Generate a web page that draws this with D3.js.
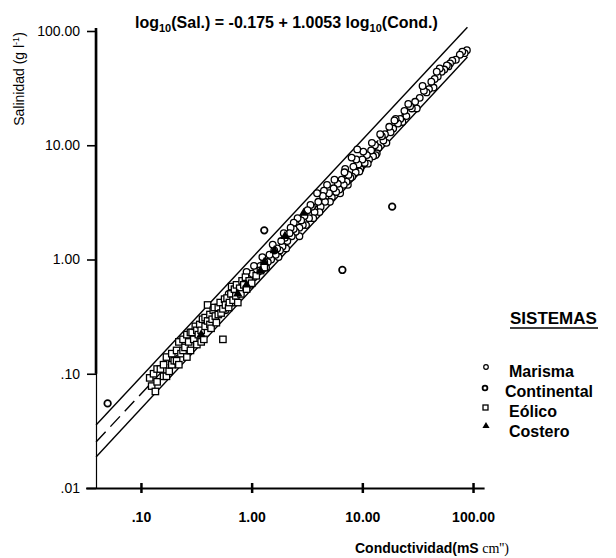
<!DOCTYPE html>
<html>
<head>
<meta charset="utf-8">
<script src="https://cdn.jsdelivr.net/npm/d3@7"></script>
<style>
body { margin: 0; background: #fff; }
text { font-family: "Liberation Sans", Arial, sans-serif; fill: #000; }
</style>
</head>
<body>
<script>
// conductividad (mS/cm) y salinidad (g/l) por sistema
var marismaC = [88, 84, 80, 76, 70, 65, 62, 60, 58, 55, 52, 50, 48, 47, 45, 44, 42, 40, 38, 36, 35, 33, 31, 30, 28, 27, 26, 25, 24, 23, 22, 21, 20, 19.5, 19, 18, 17.5, 16.5, 16, 15.5, 15, 14.5, 14, 13.5, 13.2, 13, 12.5, 12.2, 12, 11.5, 11.2, 11, 10.5, 10.2, 10, 9.6, 9.4, 9.2, 9, 8.8, 8.7, 8.3, 8.1, 8, 7.8, 7.5, 7.4, 7.2, 7, 6.9, 6.8, 6.5, 6.3, 6.2, 6, 5.8, 5.6, 5.5, 5.3, 5.1, 5, 4.8, 4.6, 4.5, 4.4, 4.2, 4.1, 4, 3.9, 3.7, 3.6, 3.5, 3.4, 3.3, 3.2, 3.1, 3, 2.9, 2.8, 2.7, 2.7, 2.6, 2.5, 2.4, 2.4, 2.3, 2.25, 2.2, 2.1, 2.05, 2.0, 1.95, 1.9, 1.85, 1.8, 1.75, 1.7, 1.65, 1.6, 1.55, 1.5, 1.45, 1.4, 1.35, 1.3, 1.25, 1.25, 1.2, 1.15, 1.1, 1.05, 1.05, 1.0, 0.98, 0.95, 0.92, 0.9, 0.88, 0.85, 0.8, 0.75, 0.72, 0.7, 0.68, 0.65, 0.62, 0.6, 0.58, 0.55];
var marismaS = [68, 64, 66, 62, 56, 55, 52, 49, 50, 46, 44, 47, 40, 44, 38, 32, 36, 31, 29, 30, 33, 26, 21, 24, 21, 22, 23, 18, 20, 16, 17, 15.5, 17, 16.5, 14, 13, 14.5, 10.5, 12.5, 11, 12, 12.5, 9.5, 8.5, 8.2, 10, 8, 10.5, 9, 7.5, 6.9, 8.2, 7, 8.8, 7.5, 6.2, 5.9, 6.8, 9.2, 7.5, 5.8, 6.5, 5.3, 7.8, 5.2, 5.5, 4.5, 4.8, 6.2, 5.8, 4.5, 5.0, 3.8, 4.1, 4.6, 3.9, 5.0, 4.2, 3.5, 3.2, 3.8, 4.5, 3.2, 4.0, 3.6, 2.9, 2.6, 3.2, 3.8, 2.6, 2.3, 2.9, 3.0, 2.3, 2.7, 2.0, 2.4, 2.0, 2.2, 1.9, 1.6, 2.3, 1.75, 1.85, 2.1, 1.6, 1.9, 1.7, 1.45, 1.25, 1.55, 1.7, 1.3, 1.45, 1.2, 1.05, 1.25, 1.1, 1.2, 1.35, 1.0, 1.1, 0.95, 0.85, 0.95, 0.82, 1.05, 0.88, 0.78, 0.8, 0.7, 0.88, 0.75, 0.6, 0.62, 0.68, 0.78, 0.6, 0.55, 0.58, 0.5, 0.55, 0.48, 0.42, 0.45, 0.5, 0.42, 0.36, 0.38];

var continentalC = [0.05, 1.3, 6.6, 18.6];
var continentalS = [0.055, 1.8, 0.81, 2.9];

var eolicoC = [0.12, 0.125, 0.13, 0.135, 0.14, 0.14, 0.15, 0.16, 0.16, 0.17, 0.17, 0.18, 0.19, 0.19, 0.2, 0.21, 0.21, 0.22, 0.22, 0.23, 0.24, 0.24, 0.25, 0.26, 0.26, 0.27, 0.28, 0.28, 0.29, 0.3, 0.31, 0.32, 0.32, 0.33, 0.34, 0.35, 0.35, 0.36, 0.37, 0.38, 0.38, 0.4, 0.4, 0.42, 0.42, 0.43, 0.44, 0.45, 0.46, 0.47, 0.48, 0.5, 0.5, 0.52, 0.53, 0.55, 0.55, 0.57, 0.58, 0.6, 0.62, 0.63, 0.65, 0.66, 0.68, 0.7, 0.72, 0.73, 0.75, 0.78, 0.8, 0.82, 0.85, 0.88, 0.9, 0.95, 1.0, 1.1, 1.2, 1.3];
var eolicoS = [0.092, 0.078, 0.10, 0.07, 0.085, 0.11, 0.11, 0.12, 0.095, 0.095, 0.14, 0.105, 0.15, 0.12, 0.13, 0.16, 0.13, 0.12, 0.19, 0.15, 0.2, 0.16, 0.17, 0.14, 0.22, 0.19, 0.16, 0.23, 0.23, 0.2, 0.26, 0.18, 0.24, 0.22, 0.27, 0.24, 0.19, 0.3, 0.2, 0.26, 0.31, 0.29, 0.4, 0.33, 0.27, 0.25, 0.3, 0.36, 0.38, 0.32, 0.28, 0.38, 0.33, 0.42, 0.34, 0.37, 0.2, 0.45, 0.4, 0.46, 0.38, 0.42, 0.5, 0.58, 0.44, 0.55, 0.48, 0.6, 0.42, 0.56, 0.5, 0.65, 0.6, 0.7, 0.55, 0.65, 0.62, 0.72, 0.8, 0.85];

var costeroC = [2.95, 2.0, 1.6, 1.3, 1.2, 0.9, 0.75, 0.35];
var costeroS = [2.55, 1.6, 1.2, 0.95, 0.8, 0.6, 0.5, 0.22];

// rectas: ajuste (discontinua) y limites (continuas)
var lineC = [0.0393, 89];
var upperS = [0.0356, 108];
var centerS = [0.0253, 75.4];
var lowerS = [0.0187, 59.2];

var xTicks = [0.1, 1, 10, 100];
var xTickLabels = [".10", "1.00", "10.00", "100.00"];
var yTicks = [0.01, 0.1, 1, 10, 100];
var yTickLabels = [".01", ".10", "1.00", "10.00", "100.00"];

var legendLabels = ["Marisma", "Continental", "Eólico", "Costero"];

var width = 616, height = 558;

var svg = d3.select("body").append("svg").attr("width", width).attr("height", height);

var x = d3.scaleLog()
          .domain([Math.pow(10, -1.5), Math.pow(10, 2.1)])
          .range([85.6, 484.1]);

var y = d3.scaleLog()
          .domain([0.01, 100])
          .range([488, 31]);

var yAxisX = 96;

// ejes
var xAxis = d3.axisBottom(x).tickValues(xTicks)
    .tickFormat(function(d, i) { return xTickLabels[i]; })
    .tickSize(0).tickSizeOuter(0).tickPadding(24);

var gx = svg.append("g").attr("transform", "translate(0,488)").call(xAxis);
gx.select(".domain").attr("stroke-width", 2.2);
gx.selectAll(".tick line").attr("y1", -5).attr("y2", 5).attr("stroke-width", 2.5);
gx.selectAll(".tick text").attr("font-size", 14).attr("font-weight", "bold")
    .style("font-family", "'Liberation Sans', Arial, sans-serif");

var yAxis = d3.axisLeft(y).tickValues(yTicks)
    .tickFormat(function(d, i) { return yTickLabels[i]; })
    .tickSize(9).tickSizeOuter(0).tickPadding(7);

var gy = svg.append("g").attr("transform", "translate(" + yAxisX + ",0)").call(yAxis);
gy.select(".domain").attr("stroke-width", 1.2);
gy.selectAll(".tick line").attr("stroke-width", 1.6);
gy.selectAll(".tick text").attr("font-size", 14)
    .style("font-family", "'Liberation Sans', Arial, sans-serif");

// tramo grueso del eje y
svg.append("line")
    .attr("x1", yAxisX).attr("x2", yAxisX)
    .attr("y1", y(100) - 3).attr("y2", y(0.1))
    .attr("stroke", "#000").attr("stroke-width", 2.6);

// rectas
var line = d3.line()
    .x(function(d) { return x(d[0]); })
    .y(function(d) { return y(d[1]); });

function pairs(cs, ss) { return cs.map(function(c, i) { return [c, ss[i]]; }); }

svg.append("path").attr("d", line(pairs(lineC, upperS)))
    .attr("fill", "none").attr("stroke", "#000").attr("stroke-width", 1.4);
svg.append("path").attr("d", line(pairs(lineC, lowerS)))
    .attr("fill", "none").attr("stroke", "#000").attr("stroke-width", 1.4);
svg.append("path").attr("d", line(pairs(lineC, centerS)))
    .attr("fill", "none").attr("stroke", "#000").attr("stroke-width", 1.4)
    .attr("stroke-dasharray", "14,7");

// puntos
var pts = svg.append("g");

pts.selectAll(".marisma").data(pairs(marismaC, marismaS)).enter()
    .append("circle")
    .attr("cx", function(d) { return x(d[0]); })
    .attr("cy", function(d) { return y(d[1]); })
    .attr("r", 3.3)
    .attr("fill", "#fff").attr("stroke", "#000").attr("stroke-width", 1.3);

pts.selectAll(".continental").data(pairs(continentalC, continentalS)).enter()
    .append("circle")
    .attr("cx", function(d) { return x(d[0]); })
    .attr("cy", function(d) { return y(d[1]); })
    .attr("r", 3.3)
    .attr("fill", "#fff").attr("stroke", "#000").attr("stroke-width", 1.7);

pts.selectAll(".eolico").data(pairs(eolicoC, eolicoS)).enter()
    .append("rect")
    .attr("x", function(d) { return x(d[0]) - 3.2; })
    .attr("y", function(d) { return y(d[1]) - 3.2; })
    .attr("width", 6.4).attr("height", 6.4)
    .attr("fill", "#fff").attr("stroke", "#000").attr("stroke-width", 1.3);

var tri = d3.symbol().type(d3.symbolTriangle).size(38);
pts.selectAll(".costero").data(pairs(costeroC, costeroS)).enter()
    .append("path")
    .attr("d", tri)
    .attr("transform", function(d) { return "translate(" + x(d[0]) + "," + y(d[1]) + ")"; })
    .attr("fill", "#000");

// titulo
var title = svg.append("text").attr("x", 135).attr("y", 28)
    .attr("font-size", 16).attr("font-weight", "bold");
title.append("tspan").text("log");
title.append("tspan").attr("font-size", 11).attr("dy", 4).text("10");
title.append("tspan").attr("dy", -4).text("(Sal.) = -0.175 + 1.0053 log");
title.append("tspan").attr("font-size", 11).attr("dy", 4).text("10");
title.append("tspan").attr("dy", -4).text("(Cond.)");

// etiqueta eje y
var ylab = svg.append("text")
    .attr("transform", "translate(24,79) rotate(-90)")
    .attr("text-anchor", "middle").attr("font-size", 14);
ylab.append("tspan").text("Salinidad (g l");
ylab.append("tspan").attr("font-size", 9).attr("dy", -5).text("-1");
ylab.append("tspan").attr("dy", 5).text(")");

// etiqueta eje x
var xlab = svg.append("text").attr("x", 355).attr("y", 553).attr("font-size", 14).attr("font-weight", "bold");
xlab.append("tspan").text("Conductividad(mS");
xlab.append("tspan").attr("font-weight", "normal")
    .style("font-family", "'Liberation Serif', 'Times New Roman', serif").text(" cm'')");

// leyenda
svg.append("text").attr("x", 510).attr("y", 324)
    .attr("font-size", 17).attr("font-weight", "bold").text("SISTEMAS");
svg.append("line").attr("x1", 510).attr("x2", 598).attr("y1", 328).attr("y2", 328)
    .attr("stroke", "#000").attr("stroke-width", 1.6);

var leg = svg.append("g");
legendLabels.forEach(function(lab, i) {
  var ly = 372 + i * 20;
  leg.append("text").attr("x", i === 1 ? 505 : 509).attr("y", ly + 5)
      .attr("font-size", 16).attr("font-weight", "bold").text(lab);
  if (i === 0) {
    leg.append("circle").attr("cx", 486).attr("cy", ly - 5).attr("r", 2.3)
        .attr("fill", "#fff").attr("stroke", "#000").attr("stroke-width", 1.2);
  } else if (i === 1) {
    leg.append("circle").attr("cx", 485).attr("cy", ly - 4).attr("r", 2.4)
        .attr("fill", "#fff").attr("stroke", "#000").attr("stroke-width", 1.8);
  } else if (i === 2) {
    leg.append("rect").attr("x", 483).attr("y", ly - 7).attr("width", 5).attr("height", 5)
        .attr("fill", "#fff").attr("stroke", "#000").attr("stroke-width", 1.3);
  } else {
    leg.append("path").attr("d", d3.symbol().type(d3.symbolTriangle).size(22))
        .attr("transform", "translate(486," + (ly - 6) + ")").attr("fill", "#000");
  }
});
</script>
</body>
</html>
